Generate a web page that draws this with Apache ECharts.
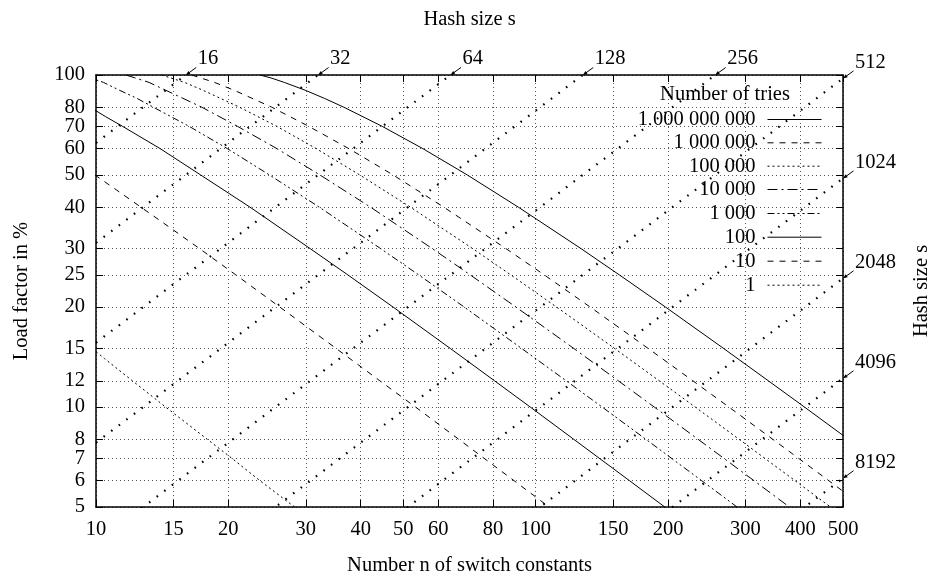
<!DOCTYPE html>
<html>
<head>
<meta charset="utf-8">
<script src="https://cdn.jsdelivr.net/npm/echarts@6/dist/echarts.min.js"></script>
<style>
html,body{margin:0;padding:0;background:#fff;}
#chart{width:935px;height:579px;}
</style>
</head>
<body>
<div id="chart"></div>
<script>
// ---- data ----
const xTicks = [10, 15, 20, 30, 40, 50, 60, 80, 100, 150, 200, 300, 400, 500];
const yTicks = [5, 6, 7, 8, 10, 12, 15, 20, 25, 30, 40, 50, 60, 70, 80, 100];

const triesLabels = ['1 000 000 000', '1 000 000', '100 000', '10 000', '1 000', '100', '10', '1'];

// curves: [n, load factor %]
const tries1e9 = [[23.6,100],[25.0,98],[26.8,95],[29.9,90],[33.1,85],[36.6,80],[44.8,70],[55.4,60],[69.9,50],[91.3,40],[126.8,30],[155,25],[197.4,20],[267.8,15],[338.1,12],[408.6,10],[514,8]];
const tries1e6 = [[16.5,100],[18.6,95],[20.6,90],[25.1,80],[30.5,70],[37.6,60],[47.4,50],[61.8,40],[85.6,30],[104.6,25],[133.1,20],[180.4,15],[227.7,12],[275.1,10],[346,8],[464.2,6],[558.7,5]];
const tries1e5 = [[14.1,100],[15.9,95],[17.5,90],[21.2,80],[25.8,70],[31.7,60],[39.8,50],[51.9,40],[71.9,30],[87.8,25],[111.6,20],[151.3,15],[190.9,12],[230.6,10],[290,8],[389,6],[468.1,5]];
const tries1e4 = [[11.7,100],[13.2,95],[14.4,90],[17.4,80],[21.0,70],[25.8,60],[32.3,50],[42.1,40],[58.2,30],[71.0,25],[90.2,20],[122.2,15],[154.1,12],[186.1,10],[234,8],[313.8,6],[377.6,5]];
const tries1e3 = [[9.3,100],[10.4,95],[11.3,90],[12.4,85],[13.5,80],[16.3,70],[19.9,60],[24.8,50],[32.2,40],[44.4,30],[54.2,25],[68.8,20],[93.0,15],[117.3,12],[141.6,10],[178,8],[238.6,6],[287.1,5]];
const tries1e2 = [[6.9,100],[9.7,80],[10.5,75],[11.5,70],[14.0,60],[17.3,50],[22.4,40],[30.7,30],[37.4,25],[47.4,20],[64,15],[80.6,12],[97.2,10],[122,8],[163.5,6],[196.6,5]];
const tries1e1 = [[8.95,55],[9.94,50],[11.15,45],[12.65,40],[14.6,35],[17.2,30],[20.8,25],[26.2,20],[35.2,15],[44.2,12],[53.3,10],[66.8,8],[89.3,6],[107.3,5]];
const tries1e0 = [[9.8,15],[10.45,14],[12.1,12],[14.4,10],[17.9,8],[20.4,7],[23.6,6],[28.3,5]];

const hashSizes = [16, 32, 64, 128, 256, 512, 1024, 2048, 4096, 8192];
// hash-size guide lines (load = n/s): endpoints at n=10 and n=500
const hashLines = [
  [[10,62.5],[500,3125]],
  [[10,31.25],[500,1562.5]],
  [[10,15.625],[500,781.25]],
  [[10,7.8125],[500,390.625]],
  [[10,3.90625],[500,195.3125]],
  [[10,1.953125],[500,97.65625]],
  [[10,0.9765625],[500,48.828125]],
  [[10,0.48828125],[500,24.4140625]],
  [[10,0.244140625],[500,12.20703125]],
  [[10,0.1220703125],[500,6.103515625]]
];
// where each hash line meets the frame (label anchor points)
const hashLabelPts = [[16,100],[32,100],[64,100],[128,100],[256,100],[500,97.65625],[500,48.828125],[500,24.4140625],[500,12.20703125],[500,6.103515625]];

// ---- style ----
const FONT = '"Liberation Serif", "Times New Roman", serif';
const FS = 20.5;
const curveData = [tries1e9, tries1e6, tries1e5, tries1e4, tries1e3, tries1e2, tries1e1, tries1e0];
const curveDash = ['solid', [6,6], [2,3], [10,4,2,4], [7,3,2,3,2,3], 'solid', [6,6], [2,3]];
const legendRowY = [120, 143.3, 166.7, 190, 214, 237.7, 261.7, 285.7];

const series = [];
hashLines.forEach((pts, i) => {
  series.push({
    name: 's=' + hashSizes[i],
    type: 'line',
    data: pts,
    symbol: 'none',
    clip: true,
    silent: true,
    color: '#000',
    lineStyle: {color: '#000', width: 2.2, type: [1.6, 7.9], cap: 'butt'},
    z: 2
  });
});
curveData.forEach((d, i) => {
  series.push({
    name: triesLabels[i],
    type: 'line',
    data: d,
    symbol: 'none',
    clip: true,
    color: '#000',
    itemStyle: {color: '#000'},
    lineStyle: {color: '#000', width: 1, type: curveDash[i]},
    z: 3
  });
});
series.push({
  type: 'custom',
  name: 'hashLabels',
  coordinateSystem: 'cartesian2d',
  clip: false,
  silent: true,
  data: hashLabelPts.map((p, i) => [p[0], p[1], hashSizes[i]]),
  renderItem: function (params, api) {
    const p = api.coord([api.value(0), api.value(1)]);
    return {
      type: 'group',
      children: [
        {type: 'line', shape: {x1: p[0] + 1.5, y1: p[1] - 1, x2: p[0] + 10.5, y2: p[1] - 7.5},
         style: {stroke: '#000', lineWidth: 1}},
        {type: 'polygon', shape: {points: [[p[0], p[1]], [p[0] + 4.7, p[1] - 1.1], [p[0] + 2.7, p[1] - 4.1]]},
         style: {fill: '#000'}},
        {type: 'text', x: p[0] + 12, y: p[1] - 16,
         style: {text: String(api.value(2)), font: FS + 'px ' + FONT, align: 'left', verticalAlign: 'middle', fill: '#000'}}
      ]
    };
  },
  z: 5
});

const legends = triesLabels.map((name, i) => ({
  data: [name],
  orient: 'vertical',
  align: 'right',
  right: 113,
  top: legendRowY[i] - 11,
  padding: 0,
  itemWidth: 54,
  itemHeight: 14,
  selectedMode: false,
  itemStyle: {opacity: 0, borderWidth: 0},
  lineStyle: {width: 1, color: '#000'},
  textStyle: {fontFamily: FONT, fontSize: FS, color: '#000', padding: [0, 7, 0, 0]}
}));

const chart = echarts.init(document.getElementById('chart'), null, {renderer: 'canvas'});
chart.setOption({
  animation: false,
  backgroundColor: '#fff',
  grid: {left: 96, right: 92, top: 75, bottom: 72, containLabel: false, outerBoundsMode: 'none'},
  xAxis: [
    {
      type: 'log', logBase: 10, min: 10, max: 500, position: 'bottom',
      name: 'Number n of switch constants', nameLocation: 'middle', nameGap: 48,
      nameTextStyle: {fontFamily: FONT, fontSize: FS, color: '#000'},
      axisLine: {lineStyle: {color: '#000', width: 1.5}},
      axisTick: {inside: true, length: 7, customValues: xTicks, lineStyle: {color: '#000', width: 1}},
      axisLabel: {customValues: xTicks, margin: 12, fontFamily: FONT, fontSize: FS, color: '#000',
                  formatter: v => String(Math.round(v))},
      splitLine: {show: true, lineStyle: {color: '#555', width: 1, type: [1, 3]}},
      minorTick: {show: false}
    },
    {
      type: 'log', logBase: 10, min: 10, max: 500, position: 'top',
      name: 'Hash size s', nameLocation: 'middle', nameGap: 45,
      nameTextStyle: {fontFamily: FONT, fontSize: FS, color: '#000'},
      axisLine: {lineStyle: {color: '#000', width: 1.5}},
      axisTick: {inside: true, length: 7, customValues: xTicks, lineStyle: {color: '#000', width: 1}},
      axisLabel: {show: false},
      splitLine: {show: false}
    }
  ],
  yAxis: [
    {
      type: 'log', logBase: 10, min: 5, max: 100, position: 'left',
      name: 'Load factor in %', nameLocation: 'middle', nameGap: 64,
      nameTextStyle: {fontFamily: FONT, fontSize: FS, color: '#000'},
      axisLine: {lineStyle: {color: '#000', width: 1.5}},
      axisTick: {inside: true, length: 7, customValues: yTicks, lineStyle: {color: '#000', width: 1}},
      axisLabel: {customValues: yTicks, margin: 11, fontFamily: FONT, fontSize: FS, color: '#000',
                  formatter: v => String(Math.round(v))},
      splitLine: {show: true, lineStyle: {color: '#555', width: 1, type: [1, 3]}}
    },
    {
      type: 'log', logBase: 10, min: 5, max: 100, position: 'right',
      name: 'Hash size s', nameLocation: 'middle', nameGap: 68,
      nameTextStyle: {fontFamily: FONT, fontSize: FS, color: '#000'},
      axisLine: {lineStyle: {color: '#000', width: 1.5}},
      axisTick: {inside: true, length: 7, customValues: yTicks, lineStyle: {color: '#000', width: 1}},
      axisLabel: {show: false},
      splitLine: {show: false}
    }
  ],
  legend: legends,
  graphic: [
    {type: 'text', x: 725, y: 95, z: 10,
     style: {text: 'Number of tries', font: FS + 'px ' + FONT, align: 'center', verticalAlign: 'middle', fill: '#000'}}
  ],
  series: series
});
</script>
</body>
</html>
